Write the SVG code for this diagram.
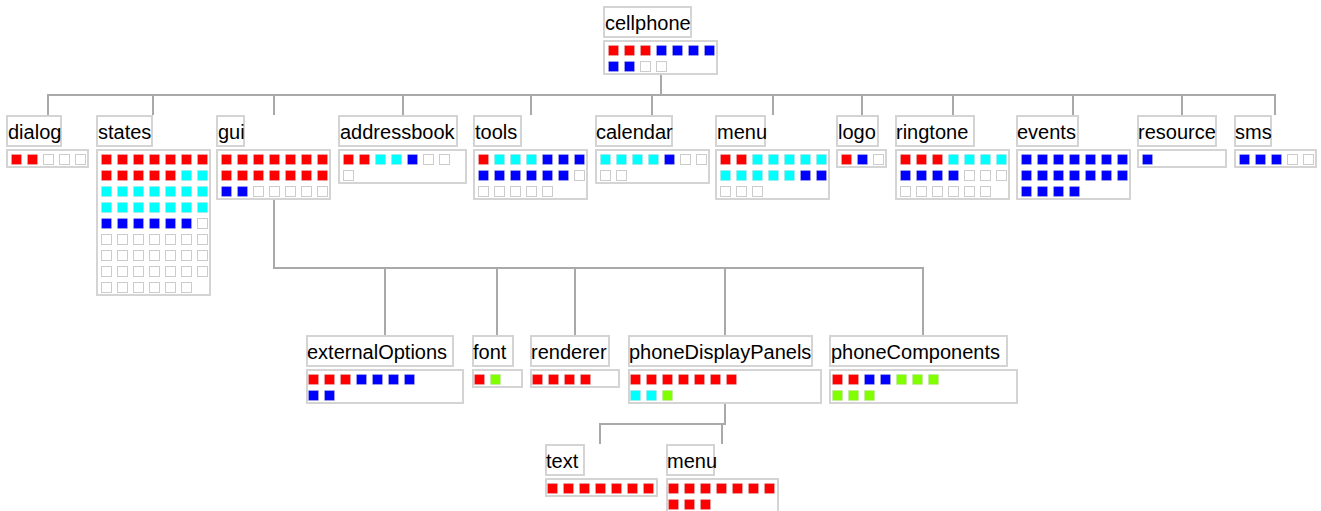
<svg xmlns="http://www.w3.org/2000/svg" width="1321" height="511" viewBox="0 0 1321 511">
<style>
.lbl{fill:#fff;stroke:#d4d4d4;stroke-width:2}
.grd{fill:#fff;stroke:#d4d4d4;stroke-width:2}
.t{font-family:"Liberation Sans",Arial,sans-serif;font-size:20px;fill:#000}
.cells rect{width:10px;height:10px;stroke:#cccccc;stroke-width:1}
.cells rect.r,.cells rect.b,.cells rect.c,.cells rect.g{stroke-opacity:0.35}
.r{fill:#ff0000;stroke:#ff0000}.b{fill:#0000ff;stroke:#0000ff}.c{fill:#00ffff;stroke:#00ffff}.g{fill:#80ff00;stroke:#80ff00}.e{fill:#ffffff}
.conn path{fill:none;stroke:#a9a9a9;stroke-width:2;stroke-linecap:square}
</style>
<rect width="1321" height="511" fill="#fff"/>
<g class="conn" id="connectors">
<path d="M661 76 V95 M48 95 H1275 M48 95 V114 M153 95 V114 M274 95 V114 M403 95 V114 M531 95 V114 M652 95 V114 M773 95 V114 M862 95 V114 M953 95 V114 M1073 95 V114 M1182 95 V114 M1275 95 V114"/>
<path d="M274 201 V268 H923 M385 268 V334 M497 268 V334 M575 268 V334 M725 268 V334 M923 268 V334"/>
<path d="M725 404 V424 H600 V443 M722 424 V443"/>
</g>
<g id="n-cellphone">
<rect class="lbl" x="604" y="7" width="87" height="30"/><text class="t" x="605" y="30">cellphone</text>
<rect class="grd" x="604" y="41" width="113" height="33"/>
<g class="cells" transform="translate(608,45)">
<rect class="r" x="0.5" y="0.5"/><rect class="r" x="16.5" y="0.5"/><rect class="r" x="32.5" y="0.5"/><rect class="b" x="48.5" y="0.5"/><rect class="b" x="64.5" y="0.5"/><rect class="b" x="80.5" y="0.5"/><rect class="b" x="96.5" y="0.5"/>
<rect class="b" x="0.5" y="16.5"/><rect class="b" x="16.5" y="16.5"/><rect class="e" x="32.5" y="16.5"/><rect class="e" x="48.5" y="16.5"/>
</g></g>
<g id="n-dialog">
<rect class="lbl" x="7" y="116" width="54" height="30"/><text class="t" x="8" y="139">dialog</text>
<rect class="grd" x="7" y="150" width="81" height="17"/>
<g class="cells" transform="translate(11,154)">
<rect class="r" x="0.5" y="0.5"/><rect class="r" x="16.5" y="0.5"/><rect class="e" x="32.5" y="0.5"/><rect class="e" x="48.5" y="0.5"/><rect class="e" x="64.5" y="0.5"/>
</g></g>
<g id="n-states">
<rect class="lbl" x="97" y="116" width="55" height="30"/><text class="t" x="98" y="139">states</text>
<rect class="grd" x="97" y="150" width="113" height="145"/>
<g class="cells" transform="translate(101,154)">
<rect class="r" x="0.5" y="0.5"/><rect class="r" x="16.5" y="0.5"/><rect class="r" x="32.5" y="0.5"/><rect class="r" x="48.5" y="0.5"/><rect class="r" x="64.5" y="0.5"/><rect class="r" x="80.5" y="0.5"/><rect class="r" x="96.5" y="0.5"/>
<rect class="r" x="0.5" y="16.5"/><rect class="r" x="16.5" y="16.5"/><rect class="r" x="32.5" y="16.5"/><rect class="r" x="48.5" y="16.5"/><rect class="r" x="64.5" y="16.5"/><rect class="c" x="80.5" y="16.5"/><rect class="c" x="96.5" y="16.5"/>
<rect class="c" x="0.5" y="32.5"/><rect class="c" x="16.5" y="32.5"/><rect class="c" x="32.5" y="32.5"/><rect class="c" x="48.5" y="32.5"/><rect class="c" x="64.5" y="32.5"/><rect class="c" x="80.5" y="32.5"/><rect class="c" x="96.5" y="32.5"/>
<rect class="c" x="0.5" y="48.5"/><rect class="c" x="16.5" y="48.5"/><rect class="c" x="32.5" y="48.5"/><rect class="c" x="48.5" y="48.5"/><rect class="c" x="64.5" y="48.5"/><rect class="c" x="80.5" y="48.5"/><rect class="c" x="96.5" y="48.5"/>
<rect class="b" x="0.5" y="64.5"/><rect class="b" x="16.5" y="64.5"/><rect class="b" x="32.5" y="64.5"/><rect class="b" x="48.5" y="64.5"/><rect class="b" x="64.5" y="64.5"/><rect class="b" x="80.5" y="64.5"/><rect class="e" x="96.5" y="64.5"/>
<rect class="e" x="0.5" y="80.5"/><rect class="e" x="16.5" y="80.5"/><rect class="e" x="32.5" y="80.5"/><rect class="e" x="48.5" y="80.5"/><rect class="e" x="64.5" y="80.5"/><rect class="e" x="80.5" y="80.5"/><rect class="e" x="96.5" y="80.5"/>
<rect class="e" x="0.5" y="96.5"/><rect class="e" x="16.5" y="96.5"/><rect class="e" x="32.5" y="96.5"/><rect class="e" x="48.5" y="96.5"/><rect class="e" x="64.5" y="96.5"/><rect class="e" x="80.5" y="96.5"/><rect class="e" x="96.5" y="96.5"/>
<rect class="e" x="0.5" y="112.5"/><rect class="e" x="16.5" y="112.5"/><rect class="e" x="32.5" y="112.5"/><rect class="e" x="48.5" y="112.5"/><rect class="e" x="64.5" y="112.5"/><rect class="e" x="80.5" y="112.5"/><rect class="e" x="96.5" y="112.5"/>
<rect class="e" x="0.5" y="128.5"/><rect class="e" x="16.5" y="128.5"/><rect class="e" x="32.5" y="128.5"/><rect class="e" x="48.5" y="128.5"/><rect class="e" x="64.5" y="128.5"/><rect class="e" x="80.5" y="128.5"/>
</g></g>
<g id="n-gui">
<rect class="lbl" x="217" y="116" width="27" height="30"/><text class="t" x="218" y="139">gui</text>
<rect class="grd" x="217" y="150" width="113" height="49"/>
<g class="cells" transform="translate(221,154)">
<rect class="r" x="0.5" y="0.5"/><rect class="r" x="16.5" y="0.5"/><rect class="r" x="32.5" y="0.5"/><rect class="r" x="48.5" y="0.5"/><rect class="r" x="64.5" y="0.5"/><rect class="r" x="80.5" y="0.5"/><rect class="r" x="96.5" y="0.5"/>
<rect class="r" x="0.5" y="16.5"/><rect class="r" x="16.5" y="16.5"/><rect class="r" x="32.5" y="16.5"/><rect class="r" x="48.5" y="16.5"/><rect class="r" x="64.5" y="16.5"/><rect class="r" x="80.5" y="16.5"/><rect class="r" x="96.5" y="16.5"/>
<rect class="b" x="0.5" y="32.5"/><rect class="b" x="16.5" y="32.5"/><rect class="e" x="32.5" y="32.5"/><rect class="e" x="48.5" y="32.5"/><rect class="e" x="64.5" y="32.5"/><rect class="e" x="80.5" y="32.5"/><rect class="e" x="96.5" y="32.5"/>
</g></g>
<g id="n-addressbook">
<rect class="lbl" x="339" y="116" width="118" height="30"/><text class="t" x="340" y="139">addressbook</text>
<rect class="grd" x="339" y="150" width="127" height="33"/>
<g class="cells" transform="translate(343,154)">
<rect class="r" x="0.5" y="0.5"/><rect class="r" x="16.5" y="0.5"/><rect class="c" x="32.5" y="0.5"/><rect class="c" x="48.5" y="0.5"/><rect class="b" x="64.5" y="0.5"/><rect class="e" x="80.5" y="0.5"/><rect class="e" x="96.5" y="0.5"/>
<rect class="e" x="0.5" y="16.5"/>
</g></g>
<g id="n-tools">
<rect class="lbl" x="474" y="116" width="47" height="30"/><text class="t" x="475" y="139">tools</text>
<rect class="grd" x="474" y="150" width="113" height="49"/>
<g class="cells" transform="translate(478,154)">
<rect class="r" x="0.5" y="0.5"/><rect class="c" x="16.5" y="0.5"/><rect class="c" x="32.5" y="0.5"/><rect class="c" x="48.5" y="0.5"/><rect class="b" x="64.5" y="0.5"/><rect class="b" x="80.5" y="0.5"/><rect class="b" x="96.5" y="0.5"/>
<rect class="b" x="0.5" y="16.5"/><rect class="b" x="16.5" y="16.5"/><rect class="b" x="32.5" y="16.5"/><rect class="b" x="48.5" y="16.5"/><rect class="b" x="64.5" y="16.5"/><rect class="b" x="80.5" y="16.5"/><rect class="e" x="96.5" y="16.5"/>
<rect class="e" x="0.5" y="32.5"/><rect class="e" x="16.5" y="32.5"/><rect class="e" x="32.5" y="32.5"/><rect class="e" x="48.5" y="32.5"/><rect class="e" x="64.5" y="32.5"/>
</g></g>
<g id="n-calendar">
<rect class="lbl" x="596" y="116" width="76" height="30"/><text class="t" x="596" y="139">calendar</text>
<rect class="grd" x="596" y="150" width="113" height="33"/>
<g class="cells" transform="translate(600,154)">
<rect class="c" x="0.5" y="0.5"/><rect class="c" x="16.5" y="0.5"/><rect class="c" x="32.5" y="0.5"/><rect class="c" x="48.5" y="0.5"/><rect class="b" x="64.5" y="0.5"/><rect class="e" x="80.5" y="0.5"/><rect class="e" x="96.5" y="0.5"/>
<rect class="e" x="0.5" y="16.5"/><rect class="e" x="16.5" y="16.5"/>
</g></g>
<g id="n-menu">
<rect class="lbl" x="716" y="116" width="49" height="30"/><text class="t" x="717" y="139">menu</text>
<rect class="grd" x="716" y="150" width="113" height="49"/>
<g class="cells" transform="translate(720,154)">
<rect class="r" x="0.5" y="0.5"/><rect class="r" x="16.5" y="0.5"/><rect class="c" x="32.5" y="0.5"/><rect class="c" x="48.5" y="0.5"/><rect class="c" x="64.5" y="0.5"/><rect class="c" x="80.5" y="0.5"/><rect class="c" x="96.5" y="0.5"/>
<rect class="c" x="0.5" y="16.5"/><rect class="c" x="16.5" y="16.5"/><rect class="c" x="32.5" y="16.5"/><rect class="c" x="48.5" y="16.5"/><rect class="c" x="64.5" y="16.5"/><rect class="b" x="80.5" y="16.5"/><rect class="b" x="96.5" y="16.5"/>
<rect class="e" x="0.5" y="32.5"/><rect class="e" x="16.5" y="32.5"/><rect class="e" x="32.5" y="32.5"/>
</g></g>
<g id="n-logo">
<rect class="lbl" x="837" y="116" width="41" height="30"/><text class="t" x="838" y="139">logo</text>
<rect class="grd" x="837" y="150" width="49" height="17"/>
<g class="cells" transform="translate(841,154)">
<rect class="r" x="0.5" y="0.5"/><rect class="b" x="16.5" y="0.5"/><rect class="e" x="32.5" y="0.5"/>
</g></g>
<g id="n-ringtone">
<rect class="lbl" x="896" y="116" width="78" height="30"/><text class="t" x="896" y="139">ringtone</text>
<rect class="grd" x="896" y="150" width="113" height="49"/>
<g class="cells" transform="translate(900,154)">
<rect class="r" x="0.5" y="0.5"/><rect class="r" x="16.5" y="0.5"/><rect class="r" x="32.5" y="0.5"/><rect class="c" x="48.5" y="0.5"/><rect class="c" x="64.5" y="0.5"/><rect class="c" x="80.5" y="0.5"/><rect class="c" x="96.5" y="0.5"/>
<rect class="b" x="0.5" y="16.5"/><rect class="b" x="16.5" y="16.5"/><rect class="b" x="32.5" y="16.5"/><rect class="b" x="48.5" y="16.5"/><rect class="e" x="64.5" y="16.5"/><rect class="e" x="80.5" y="16.5"/><rect class="e" x="96.5" y="16.5"/>
<rect class="e" x="0.5" y="32.5"/><rect class="e" x="16.5" y="32.5"/><rect class="e" x="32.5" y="32.5"/><rect class="e" x="48.5" y="32.5"/><rect class="e" x="64.5" y="32.5"/><rect class="e" x="80.5" y="32.5"/>
</g></g>
<g id="n-events">
<rect class="lbl" x="1017" y="116" width="61" height="30"/><text class="t" x="1017" y="139">events</text>
<rect class="grd" x="1017" y="150" width="113" height="49"/>
<g class="cells" transform="translate(1021,154)">
<rect class="b" x="0.5" y="0.5"/><rect class="b" x="16.5" y="0.5"/><rect class="b" x="32.5" y="0.5"/><rect class="b" x="48.5" y="0.5"/><rect class="b" x="64.5" y="0.5"/><rect class="b" x="80.5" y="0.5"/><rect class="b" x="96.5" y="0.5"/>
<rect class="b" x="0.5" y="16.5"/><rect class="b" x="16.5" y="16.5"/><rect class="b" x="32.5" y="16.5"/><rect class="b" x="48.5" y="16.5"/><rect class="b" x="64.5" y="16.5"/><rect class="b" x="80.5" y="16.5"/><rect class="b" x="96.5" y="16.5"/>
<rect class="b" x="0.5" y="32.5"/><rect class="b" x="16.5" y="32.5"/><rect class="b" x="32.5" y="32.5"/><rect class="b" x="48.5" y="32.5"/>
</g></g>
<g id="n-resource">
<rect class="lbl" x="1138" y="116" width="78" height="30"/><text class="t" x="1138" y="139">resource</text>
<rect class="grd" x="1138" y="150" width="88" height="17"/>
<g class="cells" transform="translate(1142,154)">
<rect class="b" x="0.5" y="0.5"/>
</g></g>
<g id="n-sms">
<rect class="lbl" x="1235" y="116" width="36" height="30"/><text class="t" x="1235" y="139">sms</text>
<rect class="grd" x="1235" y="150" width="81" height="17"/>
<g class="cells" transform="translate(1239,154)">
<rect class="b" x="0.5" y="0.5"/><rect class="b" x="16.5" y="0.5"/><rect class="b" x="32.5" y="0.5"/><rect class="e" x="48.5" y="0.5"/><rect class="e" x="64.5" y="0.5"/>
</g></g>
<g id="n-externalOptions">
<rect class="lbl" x="307" y="336" width="146" height="30"/><text class="t" x="307" y="359">externalOptions</text>
<rect class="grd" x="307" y="370" width="156" height="33"/>
<g class="cells" transform="translate(308,374)">
<rect class="r" x="0.5" y="0.5"/><rect class="r" x="16.5" y="0.5"/><rect class="r" x="32.5" y="0.5"/><rect class="b" x="48.5" y="0.5"/><rect class="b" x="64.5" y="0.5"/><rect class="b" x="80.5" y="0.5"/><rect class="b" x="96.5" y="0.5"/>
<rect class="b" x="0.5" y="16.5"/><rect class="b" x="16.5" y="16.5"/>
</g></g>
<g id="n-font">
<rect class="lbl" x="473" y="336" width="40" height="30"/><text class="t" x="473" y="359">font</text>
<rect class="grd" x="473" y="370" width="49" height="17"/>
<g class="cells" transform="translate(474,374)">
<rect class="r" x="0.5" y="0.5"/><rect class="g" x="16.5" y="0.5"/>
</g></g>
<g id="n-renderer">
<rect class="lbl" x="531" y="336" width="78" height="30"/><text class="t" x="531" y="359">renderer</text>
<rect class="grd" x="531" y="370" width="88" height="17"/>
<g class="cells" transform="translate(532,374)">
<rect class="r" x="0.5" y="0.5"/><rect class="r" x="16.5" y="0.5"/><rect class="r" x="32.5" y="0.5"/><rect class="r" x="48.5" y="0.5"/>
</g></g>
<g id="n-phoneDisplayPanels">
<rect class="lbl" x="629" y="336" width="183" height="30"/><text class="t" x="629" y="359">phoneDisplayPanels</text>
<rect class="grd" x="629" y="370" width="192" height="33"/>
<g class="cells" transform="translate(630,374)">
<rect class="r" x="0.5" y="0.5"/><rect class="r" x="16.5" y="0.5"/><rect class="r" x="32.5" y="0.5"/><rect class="r" x="48.5" y="0.5"/><rect class="r" x="64.5" y="0.5"/><rect class="r" x="80.5" y="0.5"/><rect class="r" x="96.5" y="0.5"/>
<rect class="c" x="0.5" y="16.5"/><rect class="c" x="16.5" y="16.5"/><rect class="g" x="32.5" y="16.5"/>
</g></g>
<g id="n-phoneComponents">
<rect class="lbl" x="830" y="336" width="177" height="30"/><text class="t" x="831" y="359">phoneComponents</text>
<rect class="grd" x="830" y="370" width="187" height="33"/>
<g class="cells" transform="translate(832,374)">
<rect class="r" x="0.5" y="0.5"/><rect class="r" x="16.5" y="0.5"/><rect class="b" x="32.5" y="0.5"/><rect class="b" x="48.5" y="0.5"/><rect class="g" x="64.5" y="0.5"/><rect class="g" x="80.5" y="0.5"/><rect class="g" x="96.5" y="0.5"/>
<rect class="g" x="0.5" y="16.5"/><rect class="g" x="16.5" y="16.5"/><rect class="g" x="32.5" y="16.5"/>
</g></g>
<g id="n-text">
<rect class="lbl" x="546" y="445" width="38" height="30"/><text class="t" x="546" y="468">text</text>
<rect class="grd" x="546" y="479" width="111" height="17"/>
<g class="cells" transform="translate(547,483)">
<rect class="r" x="0.5" y="0.5"/><rect class="r" x="16.5" y="0.5"/><rect class="r" x="32.5" y="0.5"/><rect class="r" x="48.5" y="0.5"/><rect class="r" x="64.5" y="0.5"/><rect class="r" x="80.5" y="0.5"/><rect class="r" x="96.5" y="0.5"/>
</g></g>
<g id="n-menu2">
<rect class="lbl" x="667" y="445" width="47" height="30"/><text class="t" x="667" y="468">menu</text>
<rect class="grd" x="667" y="479" width="111" height="33"/>
<g class="cells" transform="translate(668,483)">
<rect class="r" x="0.5" y="0.5"/><rect class="r" x="16.5" y="0.5"/><rect class="r" x="32.5" y="0.5"/><rect class="r" x="48.5" y="0.5"/><rect class="r" x="64.5" y="0.5"/><rect class="r" x="80.5" y="0.5"/><rect class="r" x="96.5" y="0.5"/>
<rect class="r" x="0.5" y="16.5"/><rect class="r" x="16.5" y="16.5"/><rect class="r" x="32.5" y="16.5"/>
</g></g>
</svg>
